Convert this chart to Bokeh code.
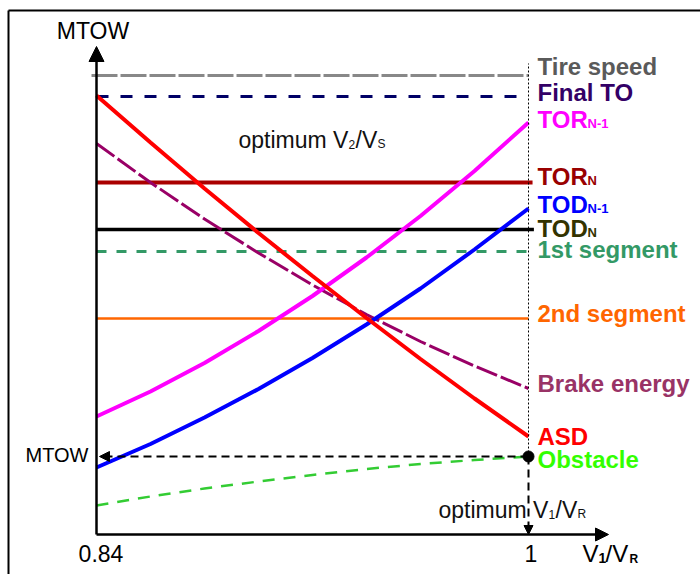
from bokeh.plotting import figure
from bokeh.models import Range1d, Label, Arrow, NormalHead
from bokeh.embed import file_html
from bokeh.resources import INLINE

# ---------------- data (V1/VR vs MTOW, arbitrary MTOW units) ----------------
v1_vr = [0.84, 0.86, 0.88, 0.90, 0.92, 0.94, 0.96, 0.98, 1.00]
tor_n1 = [23.6, 28.6, 34.3, 40.7, 47.7, 55.4, 63.7, 72.7, 82.4]
tod_n1 = [13.4, 18.1, 23.4, 29.1, 35.3, 42.0, 49.2, 57.0, 65.2]
asd = [87.8, 78.4, 69.2, 60.3, 51.7, 43.3, 35.1, 27.2, 19.6]
brake_energy = [78.2, 70.4, 63.1, 56.3, 49.9, 44.0, 38.6, 33.7, 29.2]
obstacle = [5.8, 7.6, 9.2, 10.6, 11.9, 13.1, 14.1, 14.9, 15.6]

tire_speed = 91.8
final_to = 87.6
tor_n = 70.4
tod_n = 61.0
seg1 = 56.6
seg2 = 43.2
optimum_top = 94.2  # top of the dotted optimum line

x_tick_labels = ["0.84", "1"]
x_ticks = [0.84, 1.0]

right_labels = ["Tire speed", "Final TO", "TOR", "TOR", "TOD", "TOD",
                "1st segment", "2nd segment", "Brake energy", "ASD", "Obstacle"]
right_subs = ["", "", "N-1", "N", "N-1", "N", "", "", "", "", ""]
right_colors = ["#5a5a5a", "#330066", "#ff00ff", "#990000", "#0000ff", "#333300",
                "#339966", "#ff6600", "#993366", "#ff0000", "#33ff00"]

# ---------------- layout ----------------
W, H = 700, 574
OFF = 0
X0P, X1P = 96, 528          # page px of V1/VR = 0.84 and 1.0
Y0P = 534                   # page px of MTOW = 0
KY = 5.0                    # px per MTOW unit
KX = (X1P - X0P) / (1.0 - 0.84)
xs = 0.84 - (X0P - OFF) / KX
xe = xs + W / KX
ys = (Y0P - (OFF + H)) / KY
ye = (Y0P - OFF) / KY


def px(x):
    return xs + (x - OFF) / KX


def py(y):
    return (Y0P - y) / KY


FONT = "Liberation Sans"

p = figure(width=W, height=H, x_range=Range1d(xs, xe), y_range=Range1d(ys, ye),
           x_axis_type=None, y_axis_type=None, toolbar_location=None,
           output_backend="svg", min_border=0, title=None,
           outline_line_color=None, background_fill_color="white",
           border_fill_color="white")

# frame
p.line(x=[px(8), px(8)], y=[py(10), ys], line_color="black", line_width=2)
p.line(x=[px(8), xe], y=[py(10), py(10)], line_color="black", line_width=2)

# horizontal limits
p.line(x=[px(91), 1.0], y=[tire_speed] * 2, line_color="#888888", line_width=3, line_dash="26 3")
p.line(x=[0.84, 1.0], y=[final_to] * 2, line_color="#000066", line_width=3, line_dash="12 12")
p.line(x=[0.84, 1.0015], y=[tor_n] * 2, line_color="#aa0000", line_width=4)
p.line(x=[0.84, 1.002], y=[tod_n] * 2, line_color="black", line_width=3.5)
p.line(x=[0.84, 1.0], y=[seg1] * 2, line_color="#339966", line_width=3, line_dash="10 10")
p.line(x=[0.84, 1.0], y=[seg2] * 2, line_color="#ff6600", line_width=2.5)

# curves
p.line(x=v1_vr, y=brake_energy, line_color="#990066", line_width=3, line_dash="22 4")
p.line(x=v1_vr, y=tor_n1, line_color="#ff00ff", line_width=4)
p.line(x=v1_vr, y=tod_n1, line_color="#0000ff", line_width=4)
p.line(x=v1_vr, y=asd, line_color="#ff0000", line_width=4)
p.line(x=v1_vr, y=obstacle, line_color="#33cc33", line_width=2.5, line_dash="12 9")

# optimum vertical dotted line
p.line(x=[1.0, 1.0], y=[obstacle[-1], optimum_top], line_color="black", line_width=1, line_dash="2 2")

# axes with arrows
p.add_layout(Arrow(end=NormalHead(size=15, fill_color="black", line_color="black"),
                   x_start=0.84, y_start=0, x_end=0.84, y_end=py(46),
                   line_color="black", line_width=2.5))
p.add_layout(Arrow(end=NormalHead(size=13, fill_color="black", line_color="black"),
                   x_start=0.84, y_start=0, x_end=px(608), y_end=0,
                   line_color="black", line_width=2.5))

# MTOW dashed arrows
p.add_layout(Arrow(end=NormalHead(size=10, fill_color="black", line_color="black"),
                   x_start=1.0, y_start=obstacle[-1], x_end=px(99), y_end=obstacle[-1],
                   line_color="black", line_width=2, line_dash="8 5"))
p.add_layout(Arrow(end=NormalHead(size=9, fill_color="black", line_color="black"),
                   x_start=1.0, y_start=obstacle[-1], x_end=1.0, y_end=0,
                   line_color="black", line_width=2, line_dash="8 5"))
p.scatter(x=[v1_vr[-1]], y=[obstacle[-1]], size=11, color="black")

K_SHIFT = 0.37  # empirical baseline correction (fraction of font size)


def lab(xp, yp, text, size, color="black", bold=False, align="left"):
    p.add_layout(Label(x=px(xp), y=py(yp - K_SHIFT * size), text=text, text_font=FONT,
                       text_font_size=f"{size}px",
                       text_font_style="bold" if bold else "normal",
                       text_color=color, text_align=align,
                       text_baseline="alphabetic"))


# right-hand labels
baselines = [75, 101, 128, 185, 213, 237, 258, 322, 392, 445, 468]
FS, SFS = 24, 13
for t, s, c, b in zip(right_labels, right_subs, right_colors, baselines):
    lab(537, b, t, FS, c, bold=True)
    if s:
        lab(537 + 50, b, s, SFS, c, bold=True)

# axis texts
lab(92.5, 39, "MTOW", 23, align="center")
lab(88, 462, "MTOW", 20, align="right")
lab(100.5, 562, x_tick_labels[0], 23, align="center")
lab(530.5, 562, x_tick_labels[1], 23, align="center")

# V1/VR axis title
lab(582, 562, "V", 24)
lab(598, 563, "1", 14, bold=True)
lab(605, 562, "/V", 24)
lab(629, 563, "R", 12, bold=True)

# optimum V2/VS
lab(238, 148, "optimum V", 23, "#111111")
lab(348, 148, "2", 12, "#111111")
lab(355, 148, "/V", 23, "#111111")
lab(377, 148, "S", 12, "#111111")

# optimum V1/VR
lab(438, 518, "optimum V", 23, "#111111")
lab(548, 518, "1", 12, "#111111")
lab(555, 518, "/V", 23, "#111111")
lab(577, 518, "R", 12, "#111111")

open("out.html", "w").write(file_html(p, INLINE))
